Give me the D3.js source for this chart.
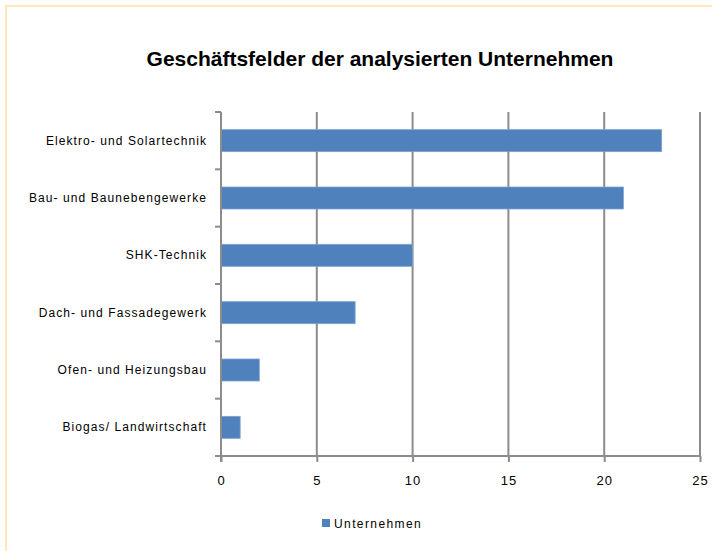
<!DOCTYPE html>
<html><head><meta charset="utf-8">
<script src="https://cdn.jsdelivr.net/npm/d3@7"></script>
<style>
html,body{margin:0;padding:0;background:#fff;}
text{font-family:"Liberation Sans",Arial,sans-serif;}
</style></head>
<body>
<svg id="c" width="712" height="551"></svg>
<script>
const categories = ["Elektro- und Solartechnik","Bau- und Baunebengewerke","SHK-Technik","Dach- und Fassadegewerk","Ofen- und Heizungsbau","Biogas/ Landwirtschaft"];
const values = [23,21,10,7,2,1];
const xTicks = [0,5,10,15,20,25];
const seriesName = "Unternehmen";
const title = "Geschäftsfelder der analysierten Unternehmen";

const svg = d3.select("#c");
svg.append("rect").attr("x",6).attr("y",6).attr("width",720).attr("height",560)
  .attr("fill","#fff").attr("stroke","#fde8b8").attr("stroke-width",2);

const m = {l:221, r:700, t:112, b:456};
const x = d3.scaleLinear().domain([0,25]).range([m.l,m.r]);
const yb = d3.scaleBand().domain(categories).range([m.t,m.b]);

// gridlines
svg.append("g").selectAll("line").data(xTicks.filter(d=>d>0)).join("line")
  .attr("x1",d=>x(d)).attr("x2",d=>x(d)).attr("y1",m.t).attr("y2",m.b)
  .attr("stroke","#8c8c8c").attr("stroke-width",2);

// bars
svg.append("g").selectAll("rect").data(values).join("rect")
  .attr("x",x(0)).attr("y",(d,i)=>yb(categories[i])+yb.bandwidth()/2-11)
  .attr("width",d=>x(d)-x(0)).attr("height",22)
  .attr("fill","#4f81bd").attr("stroke","#7da2d0").attr("stroke-width",0.8);

// x axis
const xa = svg.append("g").attr("transform",`translate(0,${m.b})`)
  .call(d3.axisBottom(x).tickValues(xTicks).tickSize(6).tickPadding(14));
xa.select(".domain").attr("stroke","#8c8c8c").attr("stroke-width",2).attr("d",`M${m.l-6},0H${m.r}`);
xa.selectAll(".tick line").attr("stroke","#8c8c8c").attr("stroke-width",2);
xa.selectAll(".tick text").attr("font-size",13).attr("fill","#000").attr("letter-spacing","1px")
  .attr("font-family","Liberation Sans, Arial, sans-serif");

// y axis
const ya = svg.append("g").attr("transform",`translate(${m.l},0)`)
  .call(d3.axisLeft(yb).tickSize(0).tickPadding(14));
ya.select(".domain").attr("stroke","#8c8c8c").attr("stroke-width",2).attr("d",`M0,${m.t}V${m.b+6}`);
ya.selectAll(".tick text").attr("font-size",12).attr("fill","#000").attr("letter-spacing","1.08px")
  .attr("font-family","Liberation Sans, Arial, sans-serif");
// category boundary ticks
const bounds = categories.map(c=>yb(c)).concat([m.b]);
svg.append("g").selectAll("line").data(bounds).join("line")
  .attr("x1",m.l-6).attr("x2",m.l).attr("y1",d=>d).attr("y2",d=>d)
  .attr("stroke","#8c8c8c").attr("stroke-width",2);

// title
svg.append("text").attr("x",380).attr("y",66).attr("text-anchor","middle")
  .attr("font-size",21).attr("font-weight","bold").text(title);

// legend
svg.append("rect").attr("x",322).attr("y",519).attr("width",8).attr("height",8).attr("fill","#4f81bd");
svg.append("text").attr("x",334).attr("y",527.5).attr("font-size",12).attr("letter-spacing","1.4px").text(seriesName);
</script>
</body></html>
